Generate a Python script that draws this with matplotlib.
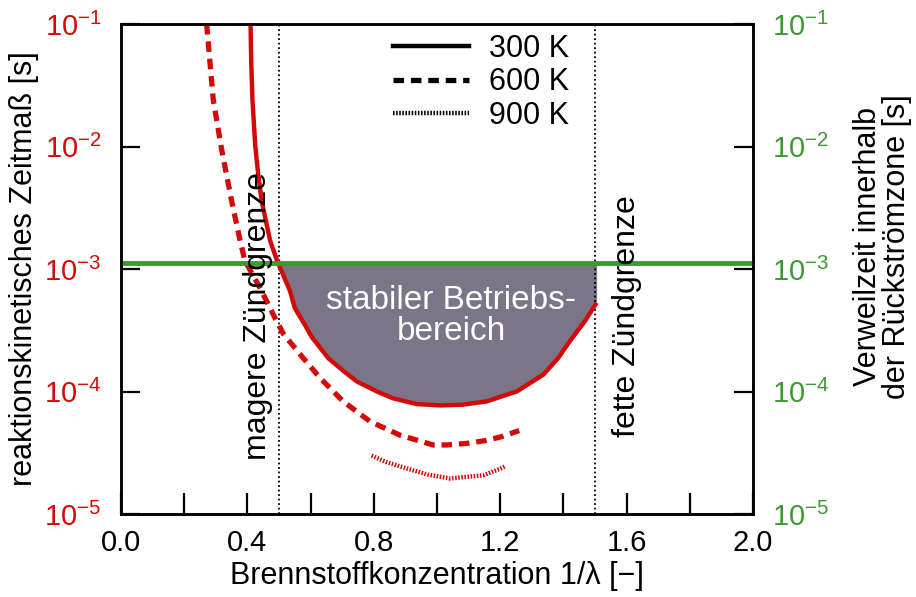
import matplotlib
matplotlib.use("Agg")
import matplotlib.pyplot as plt
from matplotlib.lines import Line2D
import numpy as np

plt.rcParams["font.family"] = ["Liberation Sans", "DejaVu Sans"]
plt.rcParams["mathtext.fontset"] = "custom"
plt.rcParams["mathtext.rm"] = "Liberation Sans"
plt.rcParams["mathtext.it"] = "Liberation Sans"

# --- data ---
# 300 K (solid)
x_300 = [0.41, 0.412, 0.416, 0.425, 0.434, 0.445, 0.472, 0.494, 0.535, 0.55, 0.582,
         0.603, 0.656, 0.70, 0.746, 0.81, 0.861, 0.936, 1.01, 1.08, 1.157, 1.252,
         1.336, 1.383, 1.42, 1.468, 1.505]
y_300 = [1.0e-1, 5.0e-2, 2.4e-2, 1.0e-2, 6.0e-3, 3.6e-3, 1.7e-3, 1.17e-3, 6.6e-4, 4.8e-4,
         3.5e-4, 2.8e-4, 1.87e-4, 1.5e-4, 1.21e-4, 1.0e-4, 8.8e-5, 7.9e-5, 7.7e-5, 7.8e-5,
         8.3e-5, 1.0e-4, 1.37e-4, 1.87e-4, 2.57e-4, 3.75e-4, 5.3e-4]

# 600 K (dashed)
x_600 = [0.271, 0.292, 0.319, 0.350, 0.377, 0.392, 0.44, 0.487, 0.514, 0.577, 0.63,
         0.703, 0.788, 0.883, 0.988, 1.03, 1.094, 1.152, 1.205, 1.26]
y_600 = [1.0e-1, 2.4e-2, 9.3e-3, 3.6e-3, 1.7e-3, 1.17e-3, 7.0e-4, 4.0e-4, 2.95e-4,
         1.87e-4, 1.29e-4, 8.3e-5, 5.7e-5, 4.4e-5, 3.66e-5, 3.66e-5, 3.77e-5, 3.97e-5,
         4.28e-5, 4.8e-5]

# 900 K (dotted)
x_900 = [0.793, 0.84, 0.905, 0.97, 1.041, 1.146, 1.2, 1.215]
y_900 = [3.0e-5, 2.65e-5, 2.35e-5, 2.1e-5, 1.95e-5, 2.07e-5, 2.34e-5, 2.45e-5]

t_residence = 1.12e-3          # Verweilzeit (green line)
lean_limit, rich_limit = 0.5, 1.5

x_ticks = [0.0, 0.2, 0.4, 0.6, 0.8, 1.0, 1.2, 1.4, 1.6, 1.8, 2.0]
x_ticklabels = ["0.0", "", "0.4", "", "0.8", "", "1.2", "", "1.6", "", "2.0"]
y_ticks = [1e-5, 1e-4, 1e-3, 1e-2, 1e-1]
y_ticklabels = [r"$10^{-5}$", r"$10^{-4}$", r"$10^{-3}$", r"$10^{-2}$", r"$10^{-1}$"]

red = "#d40a0a"
green = "#3d9a32"
fill_col = "#7a7587"
fs_tick = 21
fs = 22

fig = plt.figure(figsize=(9.16, 5.97), dpi=100)
ax = fig.add_axes([121 / 916, 1 - 514 / 597, 632 / 916, 490 / 597])

# stable region between residence time and 300 K curve
xs = np.array(x_300)
ys = np.array(y_300)
m = (xs >= lean_limit - 0.01)
ax.fill_between(xs[m], np.minimum(ys[m], t_residence), t_residence,
                color=fill_col, lw=0, zorder=1)

ax.plot(x_300, y_300, color=red, lw=3.2, solid_capstyle="butt", zorder=3)
ax.plot(x_600, y_600, color=red, lw=3.8, ls=(0, (2.0, 1.3)), zorder=3)
ax.plot(x_900, y_900, color=red, lw=3.2, ls=(0, (0.35, 0.35)), zorder=3)

ax.axhline(t_residence, color=green, lw=3.5, zorder=4)
ax.axvline(lean_limit, color="black", lw=1.3, ls=(0, (1, 1.5)), zorder=2)
ax.axvline(rich_limit, color="black", lw=1.3, ls=(0, (1, 1.5)), zorder=2)

ax.set_yscale("log")
ax.set_xlim(0, 2.0)
ax.set_ylim(1e-5, 1e-1)
ax.set_xticks(x_ticks)
ax.set_xticklabels(x_ticklabels, fontsize=fs_tick)
ax.set_yticks(y_ticks)
ax.set_yticklabels(y_ticklabels, fontsize=fs_tick, color=red)
ax.minorticks_off()
ax.tick_params(axis="x", direction="in", length=15, width=1.6, pad=11)
ax.tick_params(axis="y", direction="in", length=14, width=1.6, pad=14)
for s in ax.spines.values():
    s.set_linewidth(1.8)

ax2 = ax.twinx()
ax2.set_yscale("log")
ax2.set_ylim(1e-5, 1e-1)
ax2.set_yticks(y_ticks)
ax2.set_yticklabels(y_ticklabels, fontsize=fs_tick, color=green)
ax2.minorticks_off()
ax2.tick_params(axis="y", direction="in", length=14, width=1.6, pad=14)
for s in ax2.spines.values():
    s.set_linewidth(1.8)

ax.set_xlabel("Brennstoffkonzentration 1/λ [−]", fontsize=fs, labelpad=3)
ax.set_ylabel("reaktionskinetisches Zeitmaß [s]", fontsize=fs, labelpad=4)
ax.text(1.205, 0.545, "Verweilzeit innerhalb\nder Rückströmzone [s]", transform=ax.transAxes,
        rotation=90, ha="center", va="center", fontsize=fs, linespacing=0.95)

ax.text(1.045, 4.1e-4, "stabiler Betriebs-\nbereich", color="white", fontsize=24,
        ha="center", va="center", linespacing=1.0, zorder=5)
ax.text(0.433, 4.1e-4, "magere Zündgrenze", rotation=90, fontsize=23,
        ha="center", va="center", zorder=5)
ax.text(1.60, 4.1e-4, "fette Zündgrenze", rotation=90, fontsize=23,
        ha="center", va="center", zorder=5)

handles = [Line2D([], [], color="black", lw=3.2),
           Line2D([], [], color="black", lw=3.8, ls=(0, (2.0, 1.3))),
           Line2D([], [], color="black", lw=3.2, ls=(0, (0.35, 0.35)))]
ax.legend(handles, ["300 K", "600 K", "900 K"], loc="upper left",
          bbox_to_anchor=(0.430, 0.98), frameon=False, fontsize=fs,
          handlelength=2.5, handletextpad=0.65, labelspacing=0.12,
          borderpad=0, borderaxespad=0)

fig.savefig("out.png", dpi=100)
